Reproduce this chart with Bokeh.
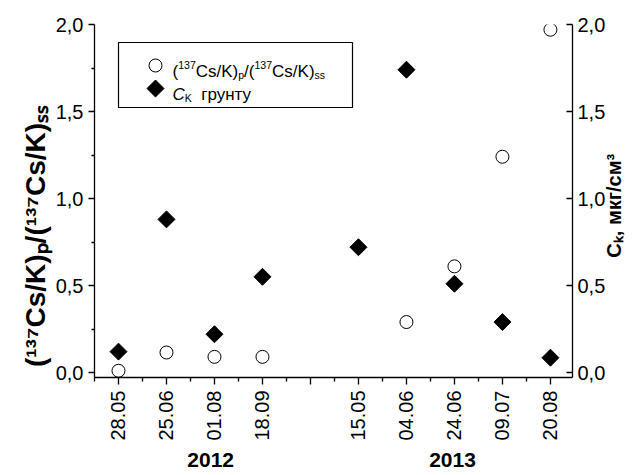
import math, os, glob
import numpy as np
from bokeh.plotting import figure
from bokeh.models import (Range1d, LinearAxis, FixedTicker, CustomJSTickFormatter,
                          Label, BoxAnnotation, ColumnDataSource)
from bokeh.embed import file_html
from bokeh.resources import INLINE

# ---------------- data ----------------
year_labels = ["2012", "2013"]
dates_2012 = ["28.05", "25.06", "01.08", "18.09"]
dates_2013 = ["15.05", "04.06", "24.06", "09.07", "20.08"]
ratio_2012 = [0.01, 0.115, 0.09, 0.09]
ratio_2013 = [None, 0.29, 0.61, 1.24, 1.97]
ck_2012 = [0.12, 0.88, 0.22, 0.55]
ck_2013 = [0.72, 1.74, 0.51, 0.29, 0.085]
y_ticks = [0.0, 0.5, 1.0, 1.5, 2.0]
y_minor = [0.25, 0.75, 1.25, 1.75]
left_title = "(\u00b9\u00b3\u2077Cs/K)\u209a/(\u00b9\u00b3\u2077Cs/K)\u209b\u209b"
right_title = "C\u2096, мкг/см\u00b3"

# ---------------- derived ----------------
pos_2012 = list(range(len(dates_2012)))
pos_2013 = [len(dates_2012) + 1 + i for i in range(len(dates_2013))]
positions = pos_2012 + pos_2013
dates = dates_2012 + dates_2013
n_slots = positions[-1] + 1
tick_labels = [""] * n_slots
for ps, d in zip(positions, dates):
    tick_labels[ps] = d
ratio = [np.nan if v is None else v for v in ratio_2012 + ratio_2013]
ck = ck_2012 + ck_2013
src = ColumnDataSource(dict(x=positions, ratio=ratio, ck=ck))

FONT = "Liberation Sans"

# ---------------- layout constants ----------------
XR = (-0.5, 9.46)
YR = (-0.0287, 2.0)
FIG_W, FIG_H = 641, 475
B_LEFT, B_RIGHT, B_TOP, B_BOTTOM = 94, 69, 24, 98
FRAME_W = FIG_W - B_LEFT - B_RIGHT
FRAME_H = FIG_H - B_TOP - B_BOTTOM
OX, OY = B_LEFT, FIG_H - B_BOTTOM          # frame bottom-left in page pixels
YEAR_X = [1.92, 6.96]                      # where the year captions sit
RIGHT_TITLE_AT = 0.66                      # where the right title starts
LEFT_TITLE_PAD = 9                         # no-break spaces that push the title down

def dx(px):
    return XR[0] + (px - OX) / FRAME_W * (XR[1] - XR[0])

def dy(py):
    return YR[0] + (OY - py) / FRAME_H * (YR[1] - YR[0])

# ---------------- text measuring ----------------
_W = {'(': .333, ')': .333, 'C': .722, 's': .5, '/': .278, 'K': .667, 'p': .556,
      '1': .556, '3': .556, '7': .556, ',': .278, ' ': .278}
_paths = {}
def _font_path(style):
    names = {"normal": "LiberationSans-Regular.ttf", "bold": "LiberationSans-Bold.ttf",
             "italic": "LiberationSans-Italic.ttf", "bold italic": "LiberationSans-BoldItalic.ttf"}
    if style not in _paths:
        hit = None
        for d in ["/usr/share/fonts", "/usr/local/share/fonts", os.path.expanduser("~/.fonts"),
                  os.path.expanduser("~/.local/share/fonts")]:
            h = glob.glob(os.path.join(d, "**", names[style]), recursive=True)
            if h:
                hit = h[0]
                break
        _paths[style] = hit
    return _paths[style]

def text_width(text, size, style):
    try:
        from PIL import ImageFont
        path = _font_path(style)
        if path:
            f = ImageFont.truetype(path, 1000)
            return f.getlength(text) / 1000.0 * size
    except Exception:
        pass
    return sum(_W.get(c, 0.556) for c in text) * size

def run_font(kind, size, ratio_=0.62, sup=0.40, sub=0.20):
    if kind == "sup":
        return size * ratio_, size * sup
    if kind == "sub":
        return size * ratio_, -size * sub
    return size, 0.0

# ---------------- figure ----------------
p = figure(width=FIG_W, height=FIG_H, x_range=Range1d(*XR), y_range=Range1d(*YR),
           output_backend="svg", toolbar_location=None,
           min_border_left=B_LEFT, min_border_right=B_RIGHT,
           min_border_top=B_TOP, min_border_bottom=B_BOTTOM)
p.grid.visible = False
p.outline_line_color = None
p.background_fill_color = "white"
p.border_fill_color = "white"
p.extra_y_ranges = {"ck": Range1d(*YR)}

def style_axis(ax):
    ax.axis_line_color = "black"
    ax.axis_line_width = 1.3
    ax.major_tick_line_color = "black"
    ax.major_tick_line_width = 1.3
    ax.minor_tick_line_color = "black"
    ax.minor_tick_line_width = 1.3
    ax.major_label_text_font = FONT
    ax.major_label_text_font_size = "20px"
    ax.major_label_text_color = "black"
    ax.axis_label_text_font = FONT
    ax.axis_label_text_font_style = "bold"
    ax.axis_label_text_color = "black"

def bare_axis(ax, size, standoff):
    ax.axis_line_color = None
    ax.major_tick_line_color = None
    ax.minor_tick_line_color = None
    ax.major_tick_out = 0
    ax.major_tick_in = 0
    ax.major_label_text_font = FONT
    ax.major_label_text_font_style = "bold"
    ax.major_label_text_font_size = size
    ax.major_label_text_color = "black"
    ax.major_label_standoff = standoff

yl = p.yaxis[0]
style_axis(yl)
yl.ticker = FixedTicker(ticks=y_ticks, minor_ticks=y_minor)
yl.formatter = CustomJSTickFormatter(code="return tick.toFixed(1).replace('.', ',');")
yl.major_tick_out = 6
yl.major_tick_in = 0
yl.minor_tick_out = 3
yl.minor_tick_in = 0
yl.major_label_standoff = 5
yl.axis_label = left_title + "\u00a0" * LEFT_TITLE_PAD
yl.axis_label_text_font_size = "28px"
yl.axis_label_standoff = 2

yr = LinearAxis(y_range_name="ck")
style_axis(yr)
yr.ticker = FixedTicker(ticks=y_ticks)
yr.formatter = CustomJSTickFormatter(code="return tick.toFixed(1).replace('.', ',');")
yr.major_tick_in = 6
yr.major_tick_out = 0
yr.minor_tick_line_color = None
yr.major_label_standoff = 5
p.add_layout(yr, "right")

# right title: a bare axis whose single label reads bottom-to-top
rt = LinearAxis(y_range_name="ck", ticker=FixedTicker(ticks=[RIGHT_TITLE_AT]),
                formatter=CustomJSTickFormatter(args=dict(t=right_title), code="return t;"))
bare_axis(rt, "20px", 6)
rt.major_label_orientation = math.pi / 2
p.add_layout(rt, "right")

xa = p.xaxis[0]
style_axis(xa)
xa.ticker = FixedTicker(ticks=list(range(n_slots)),
                        minor_ticks=[i - 0.5 for i in range(n_slots + 1)])
xa.formatter = CustomJSTickFormatter(args=dict(labels=tick_labels),
    code="const i = Math.round(tick); return (i >= 0 && i < labels.length) ? labels[i] : '';")
xa.major_label_orientation = math.pi / 2
xa.major_tick_out = 7
xa.major_tick_in = 0
xa.minor_tick_out = 4
xa.minor_tick_in = 0
xa.major_label_standoff = 6

# year captions as a second, bare axis below the dates
ya = LinearAxis(ticker=FixedTicker(ticks=YEAR_X),
                formatter=CustomJSTickFormatter(args=dict(labels=year_labels, xs=YEAR_X),
    code="let b = 0; for (let i = 0; i < xs.length; i++) { if (Math.abs(xs[i]-tick) < Math.abs(xs[b]-tick)) b = i; } return labels[b];"))
bare_axis(ya, "21px", 9)
p.add_layout(ya, "below")

circle_style = dict(marker="circle", size=13, fill_color="white", line_color="black", line_width=1)
diamond_style = dict(marker="square", angle=math.pi / 4, size=12, fill_color="black", line_color="black")

p.scatter("x", "ratio", source=src, **circle_style)
p.scatter("x", "ck", source=src, y_range_name="ck", **diamond_style)

# ---------------- legend (drawn by hand for rich text) ----------------
LEG_L, LEG_T, LEG_R, LEG_B = 118, 42, 352, 107
SW_X, SW_Y1, SW_Y2 = 155, 65, 88
TX, TB1, TB2 = 172, 71, 94
p.add_layout(BoxAnnotation(left=dx(LEG_L), right=dx(LEG_R), top=dy(LEG_T), bottom=dy(LEG_B),
                           fill_alpha=0.0, fill_color=None, line_color="black", line_width=1.2,
                           line_alpha=1.0, level="underlay"))
p.scatter(x=[dx(SW_X)], y=[dy(SW_Y1)], **circle_style)
p.scatter(x=[dx(SW_X)], y=[dy(SW_Y2)], **diamond_style)

def add_runs(runs, px, py, size, style):
    pos = 0.0
    for r in runs:
        text, kind = r[0], r[1]
        st = r[2] if len(r) > 2 else style
        fs, shift = run_font(kind, size)
        if kind == "gap":
            pos += text_width(text, fs, st)
            continue
        p.add_layout(Label(x=px + pos - OX, y=OY - py + shift, x_units="screen", y_units="screen",
                           text=text, text_font=FONT, text_font_size=f"{fs:.2f}px",
                           text_font_style=st, text_color="black",
                           text_align="left", text_baseline="alphabetic"))
        pos += text_width(text, fs, st)

ratio_runs = [("(", "n"), ("137", "sup"), ("Cs/K)", "n"), ("p", "sub"),
              ("/(", "n"), ("137", "sup"), ("Cs/K)", "n"), ("ss", "sub")]
ck_legend_runs = [("C", "n", "italic"), ("K", "sub"), ("  ", "gap"), ("грунту", "n")]
add_runs(ratio_runs, TX, TB1, 17, "normal")
add_runs(ck_legend_runs, TX, TB2, 17, "normal")

open("out.html", "w").write(file_html(p, INLINE))
